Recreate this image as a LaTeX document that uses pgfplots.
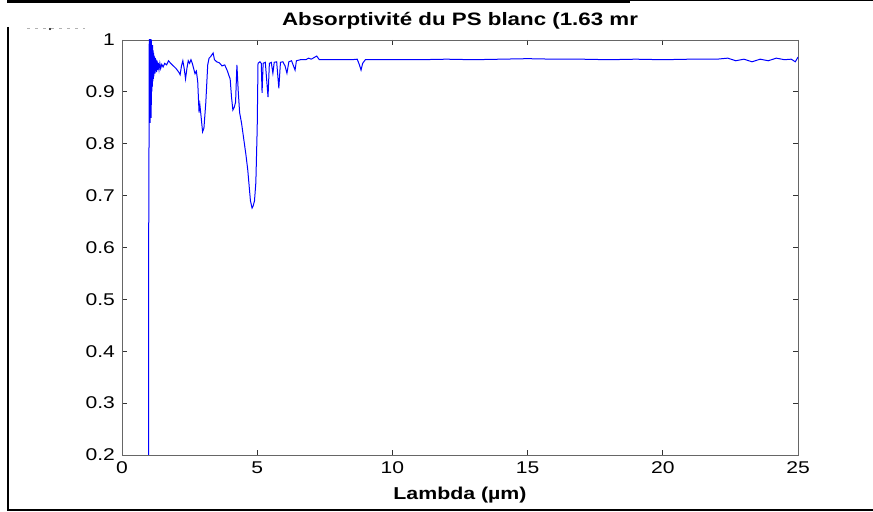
\documentclass[border=0pt]{standalone}
\usepackage{fontspec}
\setmainfont{Liberation Sans}[FakeStretch=1.24]
\usepackage{pgfplots}
\pgfplotsset{compat=1.18}
\begin{document}
\begin{tikzpicture}
\useasboundingbox (0,0) rectangle (436.5pt,256pt);
\draw[line width=1.6pt] (3.6pt,255.2pt) -- (315pt,255.2pt);
\draw[line width=0.5pt] (315pt,255.6pt) -- (436.5pt,255.6pt);
\draw[line width=1pt] (4pt,242.5pt) -- (4pt,0.5pt);
\draw[line width=1pt] (3.5pt,1pt) -- (436.5pt,1pt);
\draw[gray!60, line width=0.4pt, dash pattern=on 1.5pt off 2.5pt] (13.5pt,242pt) -- (42.5pt,242pt);
\fill (25pt,241.5pt) circle (0.6pt);
\begin{axis}[
  at={(61pt,28.5pt)}, anchor=south west,
  scale only axis, width=338pt, height=207.5pt,
  xmin=0, xmax=25, ymin=0.2, ymax=1,
  xtick={0,5,...,25}, ytick={0.2,0.3,...,1.0},
  tick align=inside, major tick length=2.5pt,
  axis line style={black!60},
  tick style={black!80, line width=0.4pt},
  ticklabel style={font=\fontsize{8.5}{10}\selectfont},
  /pgf/number format/assume math mode=true,
  yticklabel style={/pgf/number format/fixed, /pgf/number format/precision=1},
  every axis title shift=0pt,
  title={Absorptivité du PS blanc (1.63 mr},
  title style={at={(axis description cs:0.5,1)}, anchor=base, yshift=7pt, font=\bfseries\fontsize{9.0}{10}\selectfont},
  xlabel={Lambda (µm)},
  xlabel style={at={(axis description cs:0.5,0)}, anchor=base, yshift=-22.5pt, font=\bfseries\fontsize{8.6}{10}\selectfont},
]
\addplot[blue, line width=0.5pt] coordinates {
(0.985,0.1)(0.99,0.75)(1.0,0.8)(1.01,1.05)(1.02,0.86)(1.03,1.04)(1.04,0.84)(1.05,1.03)(1.06,0.88)(1.07,1.02)(1.08,0.85)(1.09,1.0)(1.10,0.9)(1.11,0.99)(1.12,0.91)(1.13,0.99)(1.14,0.92)(1.15,0.98)(1.16,0.925)(1.17,0.975)(1.18,0.93)(1.19,0.97)(1.2,0.935)(1.21,0.968)(1.22,0.935)(1.23,0.965)(1.24,0.94)(1.26,0.962)(1.28,0.938)(1.3,0.96)(1.32,0.942)(1.34,0.956)(1.37,0.943)(1.4,0.955)(1.43,0.945)(1.47,0.953)(1.52,0.948)(1.58,0.955)(1.65,0.952)(1.72,0.96)(1.8,0.955)(1.9,0.95)(2.0,0.945)(2.1,0.938)(2.15,0.933)(2.2,0.95)(2.25,0.96)(2.3,0.945)(2.35,0.925)(2.4,0.945)(2.45,0.96)(2.5,0.955)(2.55,0.962)(2.6,0.955)(2.65,0.945)(2.7,0.935)(2.75,0.94)(2.8,0.92)(2.85,0.86)(2.88,0.875)(2.92,0.855)(2.98,0.823)(3.03,0.83)(3.1,0.88)(3.17,0.952)(3.22,0.965)(3.28,0.968)(3.37,0.975)(3.42,0.962)(3.5,0.958)(3.6,0.956)(3.7,0.95)(3.8,0.952)(3.9,0.94)(3.95,0.932)(4.0,0.925)(4.05,0.89)(4.1,0.865)(4.15,0.87)(4.2,0.88)(4.25,0.952)(4.3,0.9)(4.35,0.86)(4.42,0.84)(4.5,0.81)(4.58,0.78)(4.65,0.75)(4.7,0.72)(4.75,0.69)(4.81,0.676)(4.85,0.68)(4.9,0.69)(4.95,0.725)(5.0,0.83)(5.03,0.955)(5.1,0.958)(5.15,0.955)(5.18,0.898)(5.22,0.955)(5.3,0.957)(5.4,0.89)(5.45,0.955)(5.52,0.957)(5.58,0.936)(5.63,0.957)(5.72,0.958)(5.8,0.907)(5.86,0.957)(5.95,0.958)(6.03,0.95)(6.1,0.936)(6.17,0.958)(6.27,0.96)(6.4,0.942)(6.45,0.96)(6.6,0.962)(6.8,0.962)(6.9,0.965)(7.0,0.963)(7.1,0.966)(7.2,0.969)(7.3,0.962)(7.5,0.962)(8.0,0.962)(8.5,0.962)(8.7,0.963)(8.78,0.952)(8.84,0.942)(8.9,0.955)(9.0,0.962)(10,0.962)(11,0.962)(12,0.963)(13,0.962)(14,0.963)(15,0.964)(16,0.963)(17,0.963)(18,0.962)(19,0.963)(20,0.962)(21,0.963)(22,0.963)(22.4,0.965)(22.7,0.96)(23.0,0.963)(23.3,0.958)(23.6,0.963)(23.9,0.96)(24.2,0.965)(24.5,0.962)(24.75,0.963)(24.9,0.958)(25,0.967)
};
\end{axis}
\end{tikzpicture}
\end{document}
